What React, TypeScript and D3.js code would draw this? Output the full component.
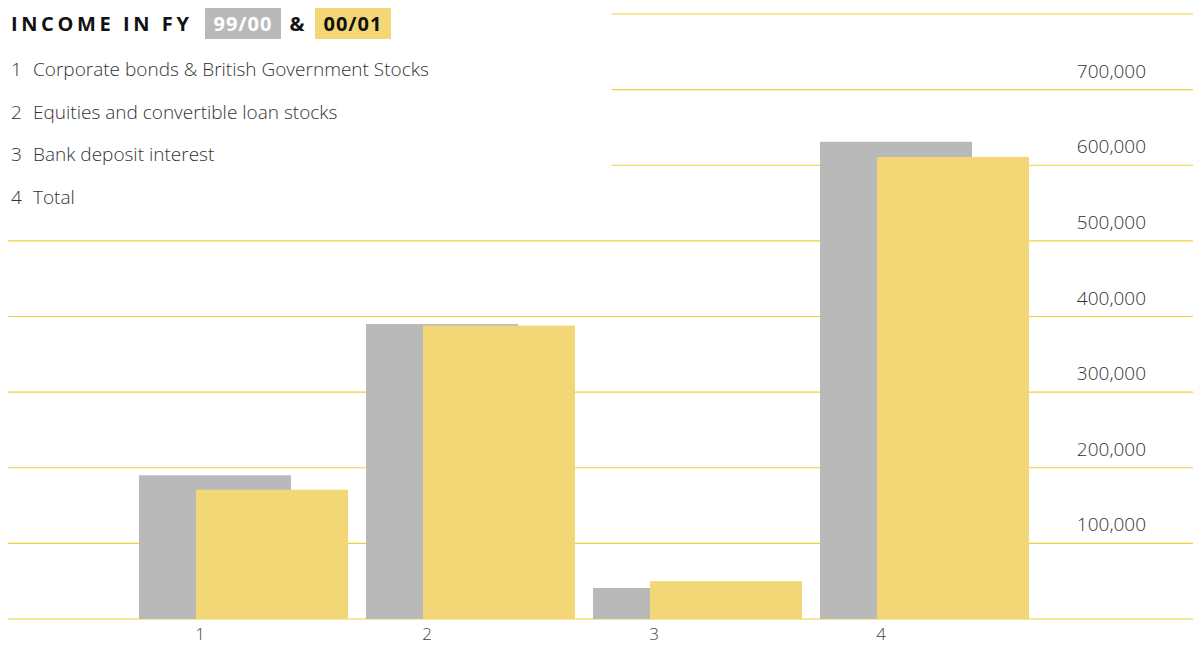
import React from "react";
import * as d3 from "d3";

// Income categories (x axis) and the two financial years
const categories = ["1", "2", "3", "4"];
const categoryNames = [
  "Corporate bonds & British Government Stocks",
  "Equities and convertible loan stocks",
  "Bank deposit interest",
  "Total",
];
const fy9900 = [190000, 390000, 41000, 631000];
const fy0001 = [171000, 388000, 50000, 611000];
const yTicks = [0, 100000, 200000, 300000, 400000, 500000, 600000, 700000, 800000];
const yLabelled = [100000, 200000, 300000, 400000, 500000, 600000, 700000];

const W = 1193;
const H = 646;
const GREY = "#b9b9b9";
const YELLOW = "#f3d776";
const GRID = "#f0cf3c";
const FONT = "'Open Sans', 'Noto Sans', sans-serif";

export default function App() {
  const y = d3.scaleLinear().domain([0, 800000]).range([619, 14]);
  const x = d3.scaleBand<string>().domain(categories).range([139, 139 + 4 * 227]).padding(0);
  const barW = 152;
  const offset = 57;
  const fmt = d3.format(",");

  return (
    <svg
      width={W}
      height={H}
      style={{ position: "absolute", left: 0, top: 0, background: "#fff" }}
      fontFamily={FONT}
    >
      {/* horizontal gridlines; the upper ones stop short of the legend */}
      {yTicks.map((t) => (
        <line
          key={t}
          x1={t >= 600000 ? 612 : 8}
          x2={W}
          y1={y(t)}
          y2={y(t)}
          stroke={GRID}
          strokeWidth={1.2}
        />
      ))}

      {/* bars */}
      {categories.map((c, i) => (
        <g key={c}>
          <rect x={x(c)!} y={y(fy9900[i])} width={barW} height={y(0) - y(fy9900[i])} fill={GREY} />
          <rect
            x={x(c)! + offset}
            y={y(fy0001[i])}
            width={barW}
            height={y(0) - y(fy0001[i])}
            fill={YELLOW}
          />
          <text
            x={x(c)! + 61}
            y={640}
            textAnchor="middle"
            fontSize={17}
            fontWeight={300}
            fill="#444"
          >
            {c}
          </text>
        </g>
      ))}

      {/* value axis labels sit just above their gridline */}
      {yLabelled.map((t) => (
        <text
          key={t}
          x={1146}
          y={y(t) - 12}
          textAnchor="end"
          fontSize={19}
          fontWeight={300}
          fill="#333"
        >
          {fmt(t)}
        </text>
      ))}

      {/* title */}
      <text x={11} y={31} fontSize={20} fontWeight={700} letterSpacing={3.6} fill="#111">
        INCOME IN FY
      </text>
      <rect x={205} y={8} width={76} height={31} fill={GREY} />
      <text x={243} y={31} textAnchor="middle" fontSize={20} fontWeight={700} letterSpacing={1} fill="#fff">
        99/00
      </text>
      <text x={297} y={31} textAnchor="middle" fontSize={20} fontWeight={700} fill="#111">
        &amp;
      </text>
      <rect x={315} y={8} width={76} height={31} fill={YELLOW} />
      <text x={353} y={31} textAnchor="middle" fontSize={20} fontWeight={700} letterSpacing={1} fill="#111">
        00/01
      </text>

      {/* legend */}
      {categories.map((c, i) => (
        <g key={c} fontSize={19} fontWeight={300} fill="#333">
          <text x={11} y={76 + i * 42.5}>
            {c}
          </text>
          <text x={33} y={76 + i * 42.5}>
            {categoryNames[i]}
          </text>
        </g>
      ))}
    </svg>
  );
}
